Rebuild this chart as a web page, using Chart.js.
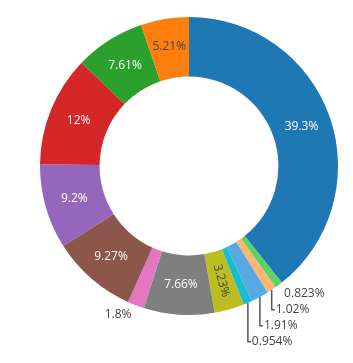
<!DOCTYPE html>
<html>
<head>
<meta charset="utf-8">
<script src="https://cdn.jsdelivr.net/npm/chart.js@4.4.0/dist/chart.umd.min.js"></script>
<style>
  html, body { margin: 0; padding: 0; background: #fff; }
  canvas { display: block; }
</style>
</head>
<body>
<canvas id="donut" width="353" height="363"></canvas>
<script>
// slices in drawing order, clockwise from 12 o'clock
var categories = ['A', 'M', 'L', 'K', 'J', 'I', 'H', 'G', 'F', 'E', 'D', 'C', 'B'];
var values = [39.3, 0.823, 1.02, 1.91, 0.954, 3.23, 7.66, 1.8, 9.27, 9.2, 12, 7.61, 5.21];
var sliceColors = ['#1f77b4', '#5fd35f', '#ffb574', '#57a9e2', '#17becf', '#bcbd22',
                   '#7f7f7f', '#e377c2', '#8c564b', '#9467bd', '#d62728', '#2ca02c', '#ff7f0e'];

var FONT = '12px "Open Sans", "Liberation Sans", sans-serif';
var TEXT_H = 12;

function pctText(v, total) {
    return parseFloat((v / total * 100).toPrecision(3)) + '%';
}

// same idea as tinycolor isLight
function isLight(hex) {
    var r = parseInt(hex.substr(1, 2), 16), g = parseInt(hex.substr(3, 2), 16), b = parseInt(hex.substr(5, 2), 16);
    return (r * 299 + g * 587 + b * 114) / 1000 >= 128;
}

var sliceLabels = {
    id: 'sliceLabels',
    afterDatasetsDraw: function (chart) {
        var ctx = chart.ctx;
        var arcs = chart.getDatasetMeta(0).data;
        var total = values.reduce(function (a, b) { return a + b; }, 0);
        var outside = [];
        ctx.save();
        ctx.font = FONT;
        ctx.textAlign = 'center';
        ctx.textBaseline = 'middle';

        arcs.forEach(function (arc, i) {
            var p = arc.getProps(['x', 'y', 'startAngle', 'endAngle', 'innerRadius', 'outerRadius'], true);
            var text = pctText(values[i], total);
            var w = ctx.measureText(text).width;
            var span = p.endAngle - p.startAngle;
            var mid = (p.startAngle + p.endAngle) / 2;
            var rMid = (p.innerRadius + p.outerRadius) / 2;
            var c = Math.cos(mid), s = Math.sin(mid);
            ctx.fillStyle = isLight(sliceColors[i]) ? '#444' : '#fff';

            var rFit = (w + 6) / span;
            if (rFit <= p.outerRadius - TEXT_H / 2 - 4) {
                var r = Math.max(rMid, rFit);
                ctx.fillText(text, p.x + c * r, p.y + s * r);
            } else if (span * rMid >= TEXT_H + 6 && p.outerRadius - p.innerRadius >= w + 6) {
                // radial text
                ctx.save();
                ctx.translate(p.x + c * rMid, p.y + s * rMid);
                ctx.rotate(c < 0 ? mid + Math.PI : mid);
                ctx.fillText(text, 0, 0);
                ctx.restore();
            } else {
                var d = p.outerRadius + 4;
                outside.push({
                    text: text, w: w, c: c, s: s,
                    ox: p.x + c * p.outerRadius, oy: p.y + s * p.outerRadius,
                    ax: p.x + c * d + (c >= 0 ? 3 : -3),
                    cy: p.y + s * d + (s > 0 ? 1 : -1) * TEXT_H / 2 - 0.5,
                    moved: false
                });
            }
        });

        // push overlapping outside labels downwards, one side at a time
        [true, false].forEach(function (right) {
            var side = outside.filter(function (o) { return (o.c >= 0) === right; });
            side.sort(function (a, b) { return a.cy - b.cy; });
            for (var k = 1; k < side.length; k++) {
                if (side[k].cy < side[k - 1].cy + 16) {
                    side[k].cy = side[k - 1].cy + 16;
                    side[k].moved = true;
                }
            }
        });

        ctx.fillStyle = '#444';
        ctx.strokeStyle = '#555';
        ctx.lineWidth = 1.5;
        outside.forEach(function (o) {
            var right = o.c >= 0;
            if (o.moved) {
                var dir = right ? 1 : -1;
                ctx.beginPath();
                ctx.moveTo(o.ox, o.oy);
                ctx.lineTo(o.ox, o.cy);
                ctx.lineTo(o.ox + dir * 3, o.cy);
                ctx.stroke();
                ctx.textAlign = right ? 'left' : 'right';
                ctx.fillText(o.text, o.ox + dir * 4, o.cy);
            } else {
                ctx.textAlign = right ? 'left' : 'right';
                ctx.fillText(o.text, o.ax, o.cy);
            }
        });
        ctx.restore();
    }
};

var chart = new Chart(document.getElementById('donut'), {
    type: 'doughnut',
    data: {
        labels: categories,
        datasets: [{
            data: values,
            backgroundColor: sliceColors,
            borderWidth: 0
        }]
    },
    options: {
        responsive: false,
        animation: false,
        cutout: '60%',
        layout: {
            padding: { left: 40, right: 15, top: 17, bottom: 48 }
        },
        plugins: {
            legend: { display: false },
            tooltip: { enabled: false }
        }
    },
    plugins: [sliceLabels]
});
</script>
</body>
</html>
